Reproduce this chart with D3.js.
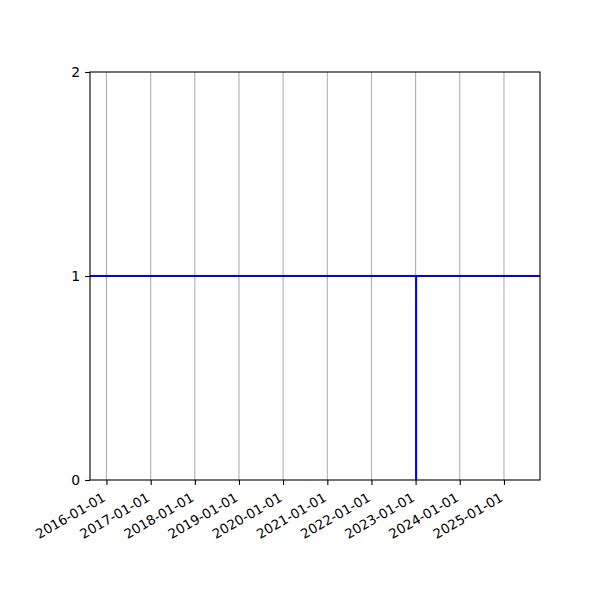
<!DOCTYPE html>
<html>
<head>
<meta charset="utf-8">
<script src="https://cdn.jsdelivr.net/npm/d3@7"></script>
<style>
body { margin: 0; background: #fff; }
text { font-family: "DejaVu Sans", sans-serif; }
</style>
</head>
<body>
<svg id="chart" width="600" height="600"></svg>
<script>
// Data
const xDomain = ["2015-08-18", "2025-10-26"];
const yDomain = [0, 2];
const xTickLabels = ["2016-01-01","2017-01-01","2018-01-01","2019-01-01","2020-01-01",
                     "2021-01-01","2022-01-01","2023-01-01","2024-01-01","2025-01-01"];
const yTickValues = [0, 1, 2];
const hLineValue = 1;                 // horizontal line across the full range
const vLineDates = ["2023-01-01"];    // vertical segment date
const vLineFrom = [0];
const vLineTo = [1];

(function () {
const parse = d3.utcParse("%Y-%m-%d");
const fmt = d3.utcFormat("%Y-%m-%d");

const svg = d3.select("#chart");
const mLeft = 90, mRight = 540, mTop = 72, mBottom = 480;

const x = d3.scaleUtc().domain(xDomain.map(parse)).range([mLeft, mRight]);
const y = d3.scaleLinear().domain(yDomain).range([mBottom, mTop]);

// grid lines
svg.append("g").selectAll("line").data(xTickLabels.map(parse)).join("line")
  .attr("x1", d => x(d)).attr("x2", d => x(d))
  .attr("y1", mTop).attr("y2", mBottom)
  .attr("stroke", "#b0b0b0").attr("stroke-width", 1.1);

// horizontal line
const line = d3.line().x(d => x(d[0])).y(d => y(d[1]));
svg.append("path")
  .datum(xDomain.map(d => [parse(d), hLineValue]))
  .attr("d", line).attr("fill", "none")
  .attr("stroke", "#0000ff").attr("stroke-width", 2.1);

// vertical segment(s)
svg.append("g").selectAll("line").data(vLineDates).join("line")
  .attr("x1", d => x(parse(d)) + 0.5).attr("x2", d => x(parse(d)) + 0.5)
  .attr("y1", (d, i) => y(vLineFrom[i])).attr("y2", (d, i) => y(vLineTo[i]))
  .attr("stroke", "#0000ff").attr("stroke-width", 2.1);

// frame
svg.append("rect").attr("x", mLeft).attr("y", mTop)
  .attr("width", mRight - mLeft).attr("height", mBottom - mTop)
  .attr("fill", "none").attr("stroke", "#000").attr("stroke-width", 1.1);

// x axis
const xAxis = d3.axisBottom(x)
  .tickValues(xTickLabels.map(parse))
  .tickFormat(fmt).tickSizeOuter(0).tickSize(4.9).tickPadding(4.9);
const gx = svg.append("g").attr("transform", `translate(0,${mBottom})`).call(xAxis);
gx.select(".domain").remove();
gx.selectAll(".tick line").attr("stroke", "#000").attr("stroke-width", 1.1);
gx.selectAll(".tick text")
  .attr("font-size", "13.4px").attr("font-family", "DejaVu Sans, sans-serif")
  .attr("fill", "#000")
  .attr("text-anchor", "end")
  .attr("dy", "0.75em")
  .attr("y", 0)
  .attr("transform", "translate(-5.5,11.5) rotate(-30)");

// y axis
const yAxis = d3.axisLeft(y).tickValues(yTickValues).tickFormat(d3.format("d"))
  .tickSizeOuter(0).tickSize(4.9).tickPadding(4.9);
const gy = svg.append("g").attr("transform", `translate(${mLeft},0)`).call(yAxis);
gy.select(".domain").remove();
gy.selectAll(".tick line").attr("stroke", "#000").attr("stroke-width", 1.1);
gy.selectAll(".tick text")
  .attr("font-size", "13.9px").attr("font-family", "DejaVu Sans, sans-serif")
  .attr("fill", "#000");
})();
</script>
</body>
</html>
